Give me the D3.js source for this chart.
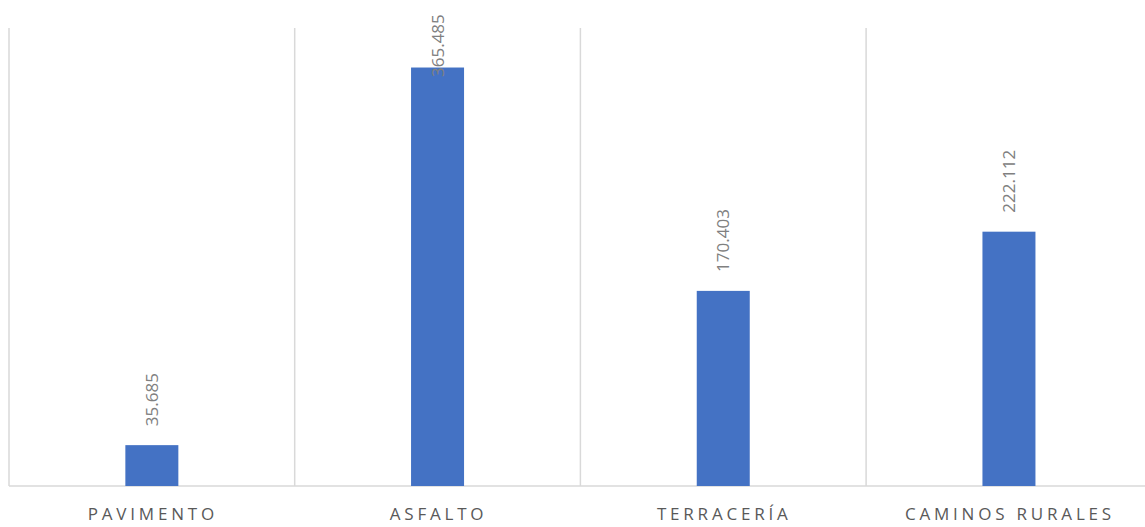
<!DOCTYPE html>
<html><head><meta charset="utf-8">
<script src="https://cdn.jsdelivr.net/npm/d3@7"></script>
<style>body{margin:0;background:#fff}svg{display:block}</style>
</head><body>
<script>
const categories = ["PAVIMENTO","ASFALTO","TERRACERÍA","CAMINOS RURALES"];
const values = [35.685, 365.485, 170.403, 222.112];
const labels = ["35.685","365.485","170.403","222.112"];

(function(){
const W = 1145, H = 527;
const svg = d3.select("body").append("svg").attr("width", W).attr("height", H);
const left = 9, step = 285.7, plotTop = 28, base = 486;
const x = d3.scaleBand().domain(categories).range([left, left + step*categories.length]).paddingInner(0).paddingOuter(0);
const y = d3.scaleLinear().domain([0, 400]).range([base, plotTop]);

const bounds = categories.map(c => x(c));
svg.selectAll("line.grid").data(bounds).enter().append("line")
  .attr("x1", d => d).attr("x2", d => d).attr("y1", plotTop).attr("y2", base)
  .attr("stroke", "#d9d9d9").attr("stroke-width", 1.5);
svg.append("line").attr("x1", left).attr("x2", W).attr("y1", base).attr("y2", base)
  .attr("stroke", "#d9d9d9").attr("stroke-width", 1.5);

const bw = 53;
svg.selectAll("rect.bar").data(values).enter().append("rect")
  .attr("x", (d,i) => x(categories[i]) + x.bandwidth()/2 - bw/2)
  .attr("width", bw)
  .attr("y", d => y(d)).attr("height", d => base - y(d))
  .attr("fill", "#4472c4");

svg.selectAll("text.val").data(values).enter().append("text")
  .attr("transform", (d,i) => {
    const cx = x(categories[i]) + x.bandwidth()/2 + 6;
    let yy = y(d) - 19;
    if (yy - 68 < 8) yy = 77;
    return `translate(${cx},${yy}) rotate(-90)`;
  })
  .attr("font-family", "Open Sans, sans-serif").attr("font-size", 17)
  .attr("fill", "#808080").text((d,i) => labels[i]);

svg.selectAll("text.cat").data(categories).enter().append("text")
  .attr("x", d => x(d) + x.bandwidth()/2 + 1).attr("y", 520)
  .attr("text-anchor", "middle")
  .attr("font-family", "Open Sans, sans-serif").attr("font-size", 17)
  .attr("letter-spacing", "3.8px")
  .attr("fill", "#595959").text(d => d);
})();
</script>
</body></html>
